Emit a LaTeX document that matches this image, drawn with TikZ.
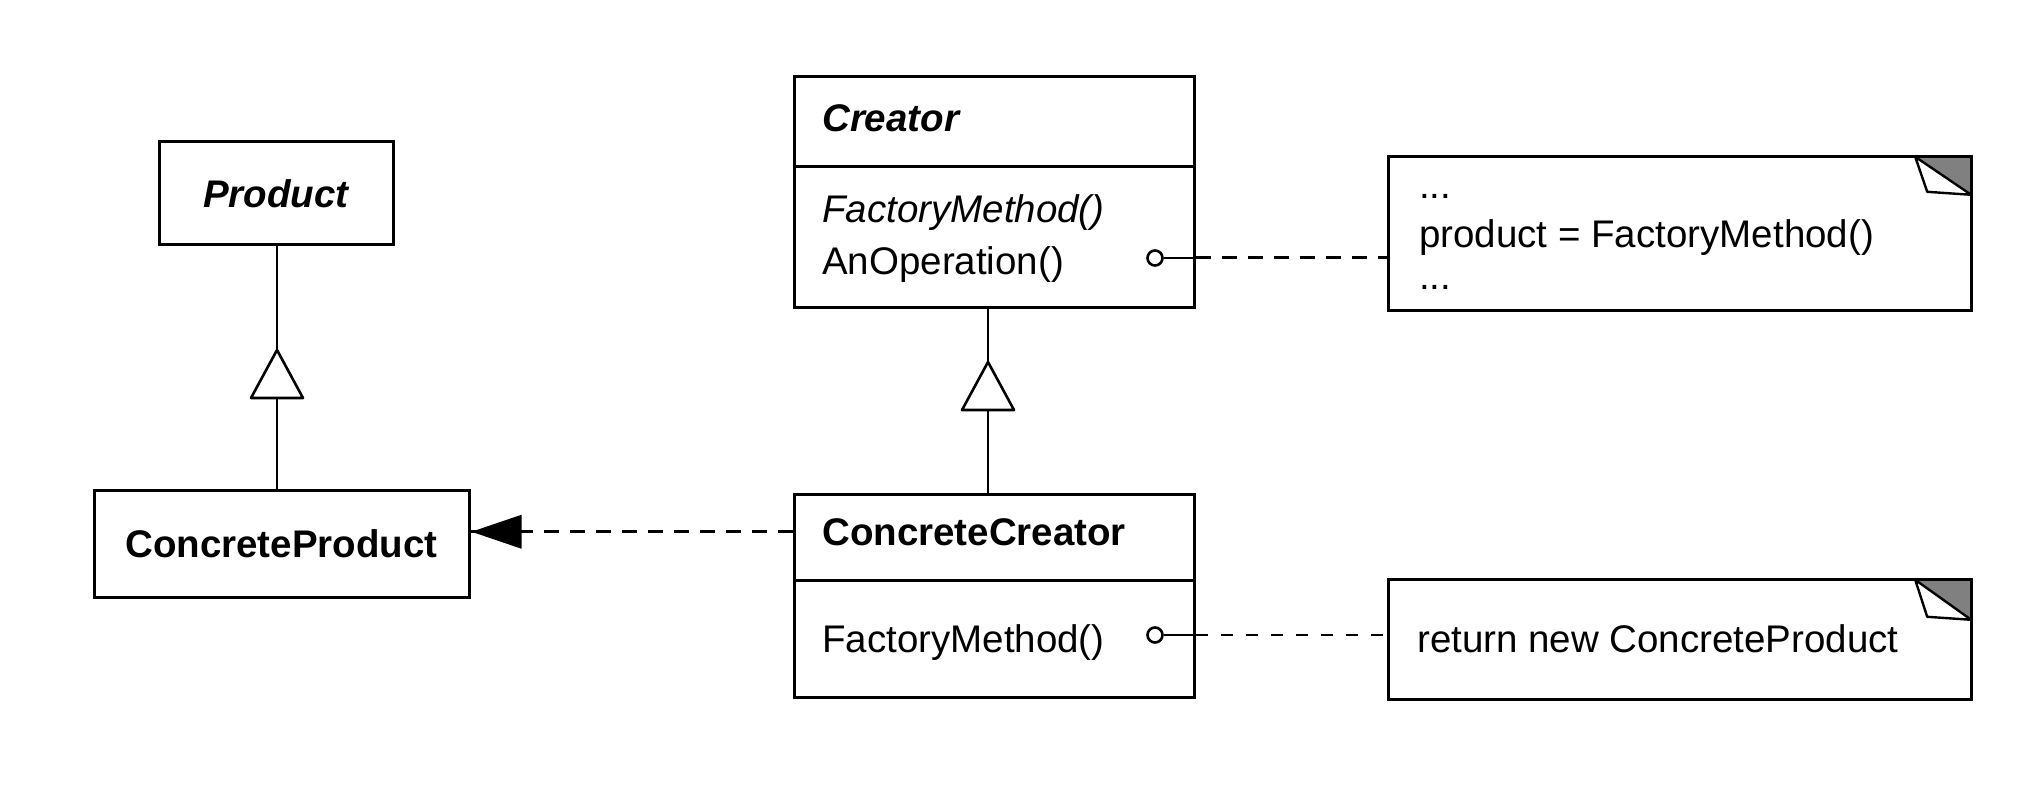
\documentclass[tikz,border=0pt]{standalone}
\usepackage{fontspec}
\setmainfont{Liberation Sans}
\usetikzlibrary{calc}
\begin{document}
\begin{tikzpicture}[x=1pt,y=-1pt,
  every node/.style={font=\fontsize{38.5}{46}\selectfont},
  classbox/.style={draw, line width=3pt, rectangle, inner sep=0pt},
  txt/.style={anchor=base west, inner sep=0pt},
  notebox/.style={rectangle, inner sep=0pt},
  solidline/.style={line width=2.6pt},
  depline/.style={line width=3pt, dash pattern=on 15pt off 11pt},
  noteline/.style={line width=3pt, dash pattern=on 15pt off 11pt},
  noteline2/.style={line width=2.6pt, dash pattern=on 12pt off 13pt},
  lollipop/.style={circle, draw, line width=2.6pt, minimum size=15pt, inner sep=0pt},
  foldfill/.style={fill=black!50},
]
\useasboundingbox (0,0) rectangle (2038,794);
\fill[white] (0,0) rectangle (2038,794);

% Product
\node[classbox, minimum width=234pt, minimum height=103pt] (product) at (276,193.5) {\bfseries\itshape Product};
% ConcreteProduct
\node[classbox, minimum width=375pt, minimum height=107pt] (cproduct) at (281.5,543.5) {\bfseries ConcreteProduct};

% Creator
\node[classbox, minimum width=400pt, minimum height=231pt] (creator) at (994,192.5) {};
\coordinate (crdiv) at (0,167);
\draw[line width=3pt] (creator.west |- crdiv) -- (creator.east |- crdiv);
\node[txt] (creatorname) at (822,132) {\bfseries\itshape Creator};
\node[txt] (fm1) at (822,223) {\itshape FactoryMethod()};
\node[txt] (anop) at (822,275) {AnOperation()};
\node[lollipop] (c1) at (1155,258) {};

% ConcreteCreator
\node[classbox, minimum width=400pt, minimum height=203pt] (ccreator) at (994,595.5) {};
\coordinate (ccdiv) at (0,580);
\draw[line width=3pt] (ccreator.west |- ccdiv) -- (ccreator.east |- ccdiv);
\node[txt] (ccname) at (822,545) {\bfseries ConcreteCreator};
\node[txt] (fm2) at (822,652) {FactoryMethod()};
\node[lollipop] (c2) at (1155,635) {};

% Note 1
\node[notebox, minimum width=582pt, minimum height=153pt] (note1) at (1680,233.5) {};
\fill[foldfill] ([xshift=-56pt]note1.north east) -- (note1.north east) -- ([yshift=-38pt]note1.north east) -- cycle;
\draw[line width=2.4pt, fill=white, line join=round] ([xshift=-56pt]note1.north east) -- ([xshift=-44pt,yshift=-35pt]note1.north east) -- ([yshift=-38pt]note1.north east) -- cycle;
\draw[line width=3pt] (note1.north west) rectangle (note1.south east);
\node[txt] (n1a) at (1419,199) {...};
\node[txt] (n1b) at (1419,248) {product = FactoryMethod()};
\node[txt] (n1c) at (1419,290) {...};

% Note 2
\node[notebox, minimum width=582pt, minimum height=119pt] (note2) at (1680,639.5) {};
\fill[foldfill] ([xshift=-56pt]note2.north east) -- (note2.north east) -- ([yshift=-40pt]note2.north east) -- cycle;
\draw[line width=2.4pt, fill=white, line join=round] ([xshift=-56pt]note2.north east) -- ([xshift=-44pt,yshift=-37pt]note2.north east) -- ([yshift=-40pt]note2.north east) -- cycle;
\draw[line width=3pt] (note2.north west) rectangle (note2.south east);
\node[txt] (n2) at (1417,652) {return new ConcreteProduct};

% Inheritance Product <- ConcreteProduct
\coordinate (t1) at (277,350);
\coordinate (t1b) at (277,398);
\draw[solidline] (product.south -| t1) -- (t1);
\draw[solidline, fill=white, line join=round] (t1) -- ++(-26,48) -- ++(52,0) -- cycle;
\draw[solidline] (t1b) -- (cproduct.north -| t1);

% Inheritance Creator <- ConcreteCreator
\coordinate (t2) at (988,362);
\coordinate (t2b) at (988,410);
\draw[solidline] (creator.south -| t2) -- (t2);
\draw[solidline, fill=white, line join=round] (t2) -- ++(-26,48) -- ++(52,0) -- cycle;
\draw[solidline] (t2b) -- (ccreator.north -| t2);

% Dependency ConcreteCreator -> ConcreteProduct
\draw[depline] (ccreator.west |- ccname.west) -- (cproduct.east |- ccname.west);
\fill ([xshift=1pt]cproduct.east |- ccname.west) -- ++(50,-17) -- ++(0,34) -- cycle;

% Note connectors
\draw[solidline] (c1.east) -- (creator.east |- c1.east);
\draw[noteline] (creator.east |- c1.east) -- (note1.west |- c1.east);
\draw[solidline] (c2.east) -- (ccreator.east |- c2.east);
\draw[noteline2] (ccreator.east |- c2.east) -- (note2.west |- c2.east);
\end{tikzpicture}
\end{document}
